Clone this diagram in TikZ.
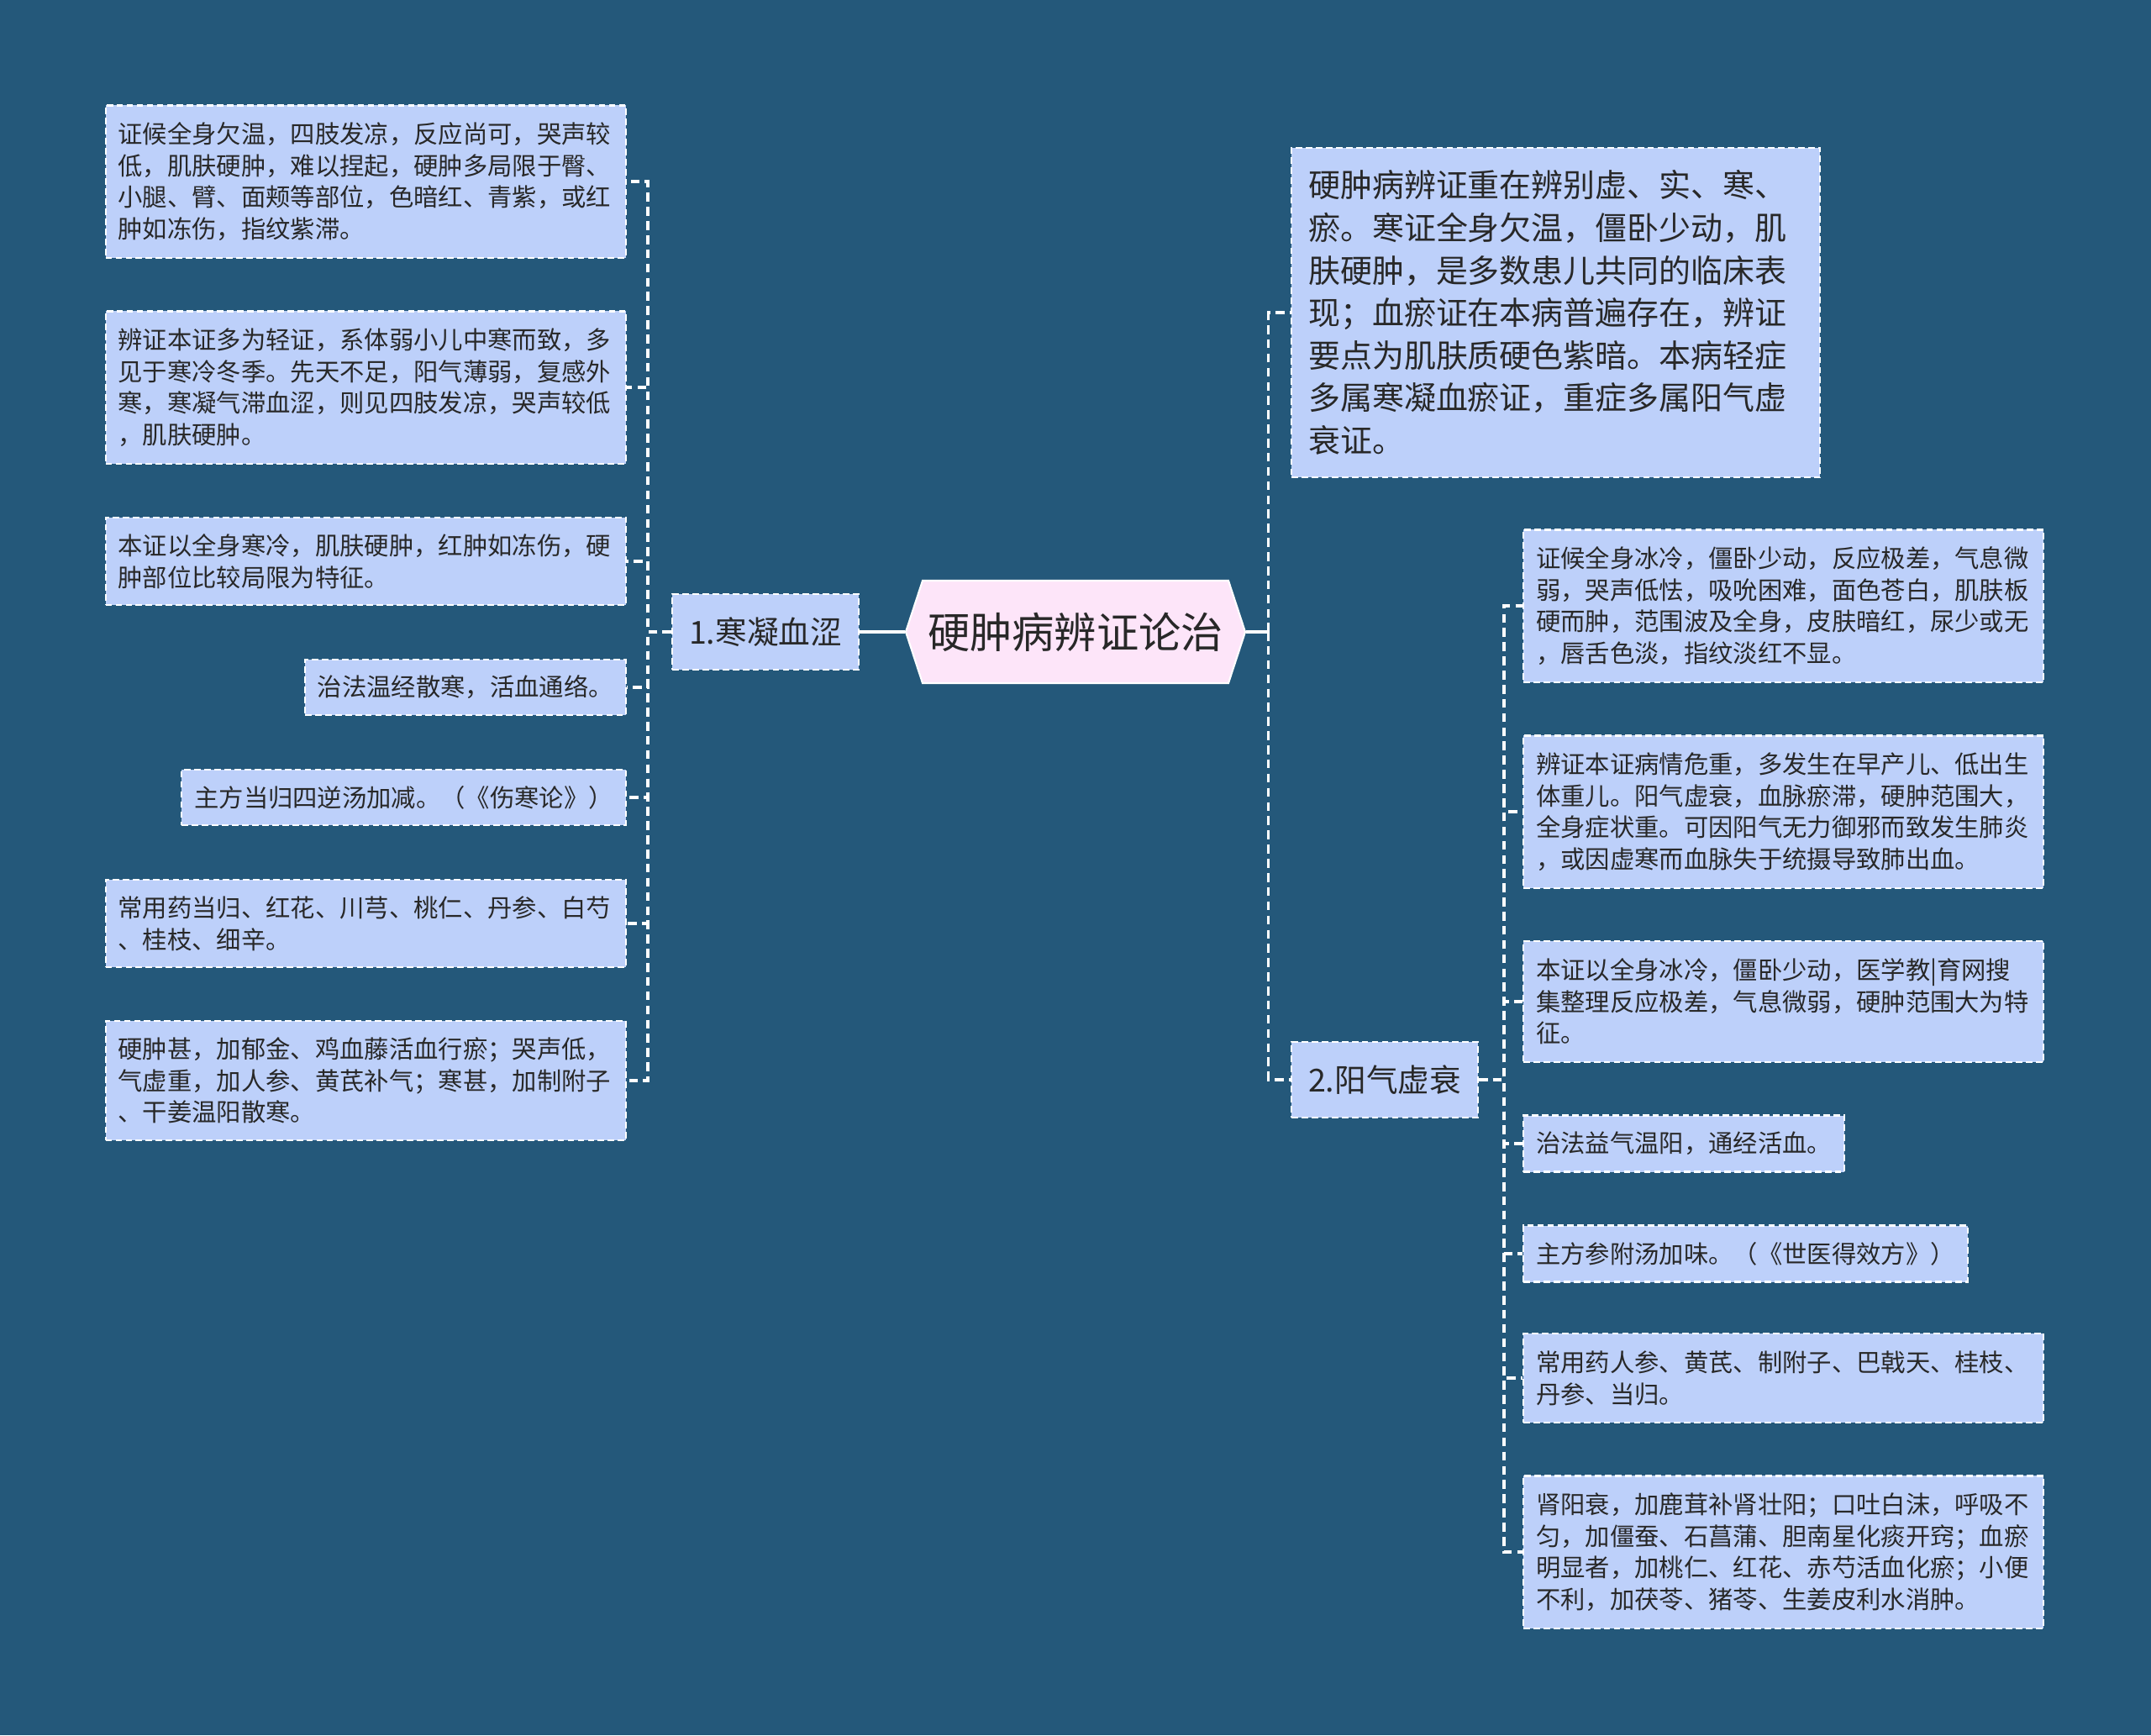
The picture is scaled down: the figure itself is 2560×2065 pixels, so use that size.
\documentclass[tikz,border=0pt]{standalone}
\usepackage{fontspec}
\setmainfont{Noto Sans CJK SC}
\usepackage{xcolor}
\usetikzlibrary{calc}

\definecolor{bgblue}{RGB}{36,88,122}
\definecolor{leafblue}{RGB}{189,208,250}
\definecolor{rootpink}{RGB}{253,229,249}
\definecolor{inktext}{RGB}{40,40,40}

\newcommand{\leaffont}{\fontsize{8.34pt}{10.7pt}\selectfont}
\newcommand{\descfont}{\fontsize{10.8pt}{14.4pt}\selectfont}
\newcommand{\branchfont}{\fontsize{10.7pt}{13pt}\selectfont}
\newcommand{\rootfont}{\fontsize{14.3pt}{17pt}\selectfont}

\begin{document}
\begin{tikzpicture}[x=0.01cm, y=-0.01cm,
  box/.style={draw=white, dash pattern=on 2.2pt off 1.2pt, line width=0.6pt,
    fill=leafblue, text=inktext, align=left, inner ysep=0pt},
  leaf/.style={box, font=\leaffont, inner xsep=0.15cm},
  wideleaf/.style={leaf, text width=5.89cm},
  branch/.style={box, font=\branchfont, inner xsep=0.2cm, minimum height=0.9cm},
  link/.style={draw=white, dash pattern=on 3pt off 1.8pt, line width=0.9pt},
  rootlink/.style={draw=white, line width=1.2pt}]

% background
\fill[bgblue] (0,0) rectangle (2560,2065);

% central topic
\coordinate (rootc) at (1280,752);
\fill[rootpink, draw=white, line width=0.6pt] ($(rootc)+(-202,0)$) -- ($(rootc)+(-182,-61)$)
  -- ($(rootc)+(182,-61)$) -- ($(rootc)+(202,0)$) -- ($(rootc)+(182,61)$)
  -- ($(rootc)+(-182,61)$) -- cycle;
\node[font=\rootfont, text=inktext, minimum width=4.04cm, minimum height=1.22cm, inner sep=0pt]
  (root) at (rootc) {硬肿病辨证论治};

% left branch
\node[branch] (b1) at (911,752) {1.寒凝血涩};

\node[wideleaf, anchor=east, minimum height=1.81cm] (L1) at (746,216)
  {证候全身欠温，四肢发凉，反应尚可，哭声较\\低，肌肤硬肿，难以捏起，硬肿多局限于臀、\\小腿、臂、面颊等部位，色暗红、青紫，或红\\肿如冻伤，指纹紫滞。};
\node[wideleaf, anchor=east, minimum height=1.81cm] (L2) at (746,461)
  {辨证本证多为轻证，系体弱小儿中寒而致，多\\见于寒冷冬季。先天不足，阳气薄弱，复感外\\寒，寒凝气滞血涩，则见四肢发凉，哭声较低\\，肌肤硬肿。};
\node[wideleaf, anchor=east, minimum height=1.045cm] (L3) at (746,668)
  {本证以全身寒冷，肌肤硬肿，红肿如冻伤，硬\\肿部位比较局限为特征。};
\node[leaf, anchor=east, minimum height=0.653cm] (L4) at (746,818)
  {治法温经散寒，活血通络。};
\node[leaf, anchor=east, minimum height=0.653cm] (L5) at (746,949)
  {主方当归四逆汤加减。（《伤寒论》）};
\node[wideleaf, anchor=east, minimum height=1.045cm] (L6) at (746,1099)
  {常用药当归、红花、川芎、桃仁、丹参、白芍\\、桂枝、细辛。};
\node[wideleaf, anchor=east, minimum height=1.42cm] (L7) at (746,1286)
  {硬肿甚，加郁金、鸡血藤活血行瘀；哭声低，\\气虚重，加人参、黄芪补气；寒甚，加制附子\\、干姜温阳散寒。};

% right side
\node[box, font=\descfont, anchor=west, text width=5.89cm, inner xsep=0.2cm, minimum height=3.92cm]
  (desc) at (1536,372)
  {硬肿病辨证重在辨别虚、实、寒、\\瘀。寒证全身欠温，僵卧少动，肌\\肤硬肿，是多数患儿共同的临床表\\现；血瘀证在本病普遍存在，辨证\\要点为肌肤质硬色紫暗。本病轻症\\多属寒凝血瘀证，重症多属阳气虚\\衰证。};

\node[branch, anchor=west] (b2) at (1536,1285) {2.阳气虚衰};

\node[wideleaf, anchor=west, minimum height=1.81cm] (R1) at (1812,721)
  {证候全身冰冷，僵卧少动，反应极差，气息微\\弱，哭声低怯，吸吮困难，面色苍白，肌肤板\\硬而肿，范围波及全身，皮肤暗红，尿少或无\\，唇舌色淡，指纹淡红不显。};
\node[wideleaf, anchor=west, minimum height=1.81cm] (R2) at (1812,966)
  {辨证本证病情危重，多发生在早产儿、低出生\\体重儿。阳气虚衰，血脉瘀滞，硬肿范围大，\\全身症状重。可因阳气无力御邪而致发生肺炎\\，或因虚寒而血脉失于统摄导致肺出血。};
\node[wideleaf, anchor=west, minimum height=1.44cm] (R3) at (1812,1192)
  {本证以全身冰冷，僵卧少动，医学教|育网搜\\集整理反应极差，气息微弱，硬肿范围大为特\\征。};
\node[leaf, anchor=west, minimum height=0.67cm] (R4) at (1812,1361)
  {治法益气温阳，通经活血。};
\node[leaf, anchor=west, minimum height=0.67cm] (R5) at (1812,1492)
  {主方参附汤加味。（《世医得效方》）};
\node[wideleaf, anchor=west, minimum height=1.06cm] (R6) at (1812,1640)
  {常用药人参、黄芪、制附子、巴戟天、桂枝、\\丹参、当归。};
\node[wideleaf, anchor=west, minimum height=1.81cm] (R7) at (1812,1847)
  {肾阳衰，加鹿茸补肾壮阳；口吐白沫，呼吸不\\匀，加僵蚕、石菖蒲、胆南星化痰开窍；血瘀\\明显者，加桃仁、红花、赤芍活血化瘀；小便\\不利，加茯苓、猪苓、生姜皮利水消肿。};

% connectors
\draw[rootlink] (root.west) -- (b1.east);
\foreach \i in {1,...,7}
  \draw[link] (b1.west) -- ++(-28,0) |- (L\i.east);

\draw[rootlink] (root.east) -- ++(27,0) coordinate (rtrunk);
\draw[link] (rtrunk) |- (desc.west);
\draw[link] (rtrunk) |- (b2.west);
\foreach \i in {1,...,7}
  \draw[link] (b2.east) -- ++(30,0) |- (R\i.west);

\end{tikzpicture}
\end{document}
